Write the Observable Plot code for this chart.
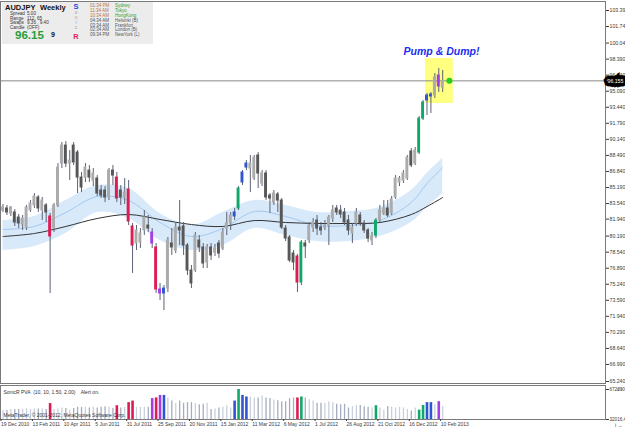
<!DOCTYPE html>
<html><head><meta charset="utf-8">
<script src="https://cdn.jsdelivr.net/npm/d3@7"></script>
<script src="https://cdn.jsdelivr.net/npm/@observablehq/plot@0.6"></script>
<style>
html,body{margin:0;padding:0;background:#fff;}
#wrap{position:relative;width:625px;height:429px;overflow:hidden;background:#fff;}
#wrap svg{position:absolute;left:0;}
</style></head><body><div id="wrap"></div>
<script>
// ---------------- data ----------------
const dateLabels = ["19 Dec 2010","13 Feb 2011","10 Apr 2011","5 Jun 2011","31 Jul 2011","25 Sep 2011","20 Nov 2011","15 Jan 2012","11 Mar 2012","6 May 2012","1 Jul 2012","26 Aug 2012","21 Oct 2012","16 Dec 2012","10 Feb 2013"];
const dateLabelBars = [0,8,16,24,32,40,48,56,64,72,80,88,96,104,112];

const opens = [82.82,83.03,82.51,82.62,82.10,81.38,81.07,82.82,83.34,84.16,
 82.82,83.34,82.21,80.97,83.34,87.65,89.50,87.65,89.50,88.78,
 86.21,86.21,86.93,85.91,86.11,84.88,84.88,84.16,86.93,86.21,
 84.88,84.16,84.98,81.18,79.43,79.53,80.77,81.28,80.56,79.02,
 74.70,74.29,74.80,79.43,78.71,81.07,81.18,79.22,76.65,76.65,
 79.74,79.02,77.48,79.02,78.50,79.43,78.92,80.97,81.49,82.21,
 83.03,85.70,87.24,87.14,86.11,88.48,85.60,86.63,84.36,83.64,
 84.47,83.85,80.97,80.05,78.40,78.09,75.42,79.43,79.74,81.07,
 81.79,81.07,81.07,81.28,82.00,83.03,82.82,82.62,81.79,80.46,
 81.49,82.31,81.49,80.77,79.74,80.25,81.79,82.51,83.03,82.51,
 84.16,85.70,85.91,86.11,88.89,87.65,88.78,92.28,94.14,94.55,
 94.65,96.71,95.47];
const highs = [83.44,83.34,83.23,82.92,82.41,82.31,83.34,83.85,84.57,84.36,
 84.16,83.54,82.51,83.54,87.65,89.81,89.92,88.99,89.81,88.99,
 86.73,87.65,87.45,87.14,86.42,85.39,85.29,87.14,87.45,86.73,
 85.39,86.11,85.91,81.49,81.28,80.97,82.82,82.31,80.97,79.43,
 75.32,75.11,80.05,80.97,81.49,83.85,81.59,79.43,77.17,80.56,
 80.25,79.43,79.33,79.43,79.33,79.74,80.97,82.62,82.62,83.03,
 85.29,86.93,87.96,88.48,88.48,88.78,86.93,86.93,84.57,84.88,
 84.67,84.06,81.28,80.25,78.71,78.30,79.74,79.74,81.59,82.00,
 82.31,81.59,81.79,82.31,83.34,83.34,83.34,83.03,82.31,81.49,
 83.03,82.62,81.79,80.97,80.56,82.00,83.34,83.85,83.85,84.26,
 86.42,86.32,86.93,88.48,89.20,89.30,92.49,94.14,94.86,94.96,
 96.91,97.43,97.22];
const lows = [82.62,82.31,82.21,81.18,80.97,80.77,80.77,82.62,83.03,82.62,
 81.79,81.59,74.29,80.56,83.13,87.14,87.24,85.91,87.45,84.57,
 84.67,85.70,85.70,85.29,84.26,84.06,83.64,83.85,85.39,83.64,
 83.34,83.44,81.28,76.35,78.71,78.92,80.25,80.56,78.92,74.29,
 73.57,72.54,74.39,78.20,78.40,79.22,78.20,76.14,74.80,76.45,
 78.50,76.86,76.86,77.68,78.09,77.89,78.71,80.25,80.77,81.79,
 82.82,85.39,86.93,84.67,85.91,85.08,85.29,83.85,82.51,83.34,
 82.62,80.87,79.63,77.48,76.65,74.39,75.11,77.89,79.43,80.56,
 80.25,80.25,80.77,79.22,81.59,82.31,82.00,81.28,80.25,79.43,
 81.18,81.18,80.46,79.53,79.22,79.94,81.59,82.31,82.10,82.31,
 83.95,85.29,85.60,85.91,87.24,87.45,88.58,92.07,92.59,92.80,
 94.34,94.96,94.96];
const closes = [83.13,82.62,83.13,81.59,81.49,82.00,83.13,83.54,84.26,83.03,
 83.85,82.62,80.15,83.34,87.24,89.50,87.65,87.96,87.76,86.21,
 85.19,87.24,86.21,86.63,84.57,84.36,84.16,86.93,86.42,84.06,
 84.16,84.67,81.69,79.22,80.77,80.46,82.10,80.97,79.43,74.70,
 74.29,74.80,79.74,79.02,81.07,80.77,79.22,76.65,75.32,80.25,
 79.02,77.37,79.02,78.20,78.92,78.40,80.56,81.49,82.31,82.62,
 85.08,86.73,87.65,87.65,88.27,86.63,86.63,84.16,84.06,84.57,
 83.85,81.07,79.94,77.68,77.48,75.42,79.53,79.12,81.28,81.59,
 80.97,80.77,81.28,82.10,82.82,82.62,82.41,81.59,80.77,81.07,
 82.62,81.49,80.77,79.94,80.15,81.79,82.82,83.03,82.31,83.95,
 86.11,86.11,86.63,88.27,87.45,88.99,92.28,93.93,94.65,94.75,
 96.50,95.57,96.155];
// PVA bar class: u = up, d = down, G = climax up, R = climax down, B = rising-volume up, P = rising-volume down
const pvaType = ("u d u d d u u u u d " + "u d R u u u d u d d " + "d u d u d d d u d R " +
 "d u R R u u u d P R " + "P B u d u d d d d u " + "d d u d u d u u u B " +
 "G B B u u d u d d u " + "d d d d d R G d u u " + "d d u u u d d d d u " +
 "u d d d u G u u d u " + "u u u u d u G G B B " + "u P u").trim().split(" ");
const volumes = [226000,226000,246000,246000,246000,246000,258000,246000,258000,258000,
 258000,246000,372000,246000,258000,278000,266000,226000,266000,292000,
 292000,292000,278000,292000,278000,292000,306000,292000,266000,326000,
 278000,292000,392000,426000,292000,292000,292000,292000,478000,492000,
 546000,546000,492000,426000,372000,426000,378000,392000,392000,372000,
 346000,358000,378000,246000,258000,278000,292000,326000,278000,426000,
 672390,546000,512000,512000,492000,492000,532000,492000,478000,446000,
 432000,412000,412000,478000,492000,492000,512000,492000,452000,426000,
 378000,378000,372000,412000,392000,358000,346000,358000,278000,306000,
 326000,332000,306000,292000,278000,326000,278000,232000,312000,292000,
 278000,292000,278000,246000,212000,278000,232000,332000,392000,392000,
 346000,412000,312000];

// SonicR dragon band (EMA34 high/low/close) and slow EMA89, sampled every few bars
const bandBars  = [0,8,16,24,32,40,48,56,64,72,80,88,96,104,108,112];
const bandUpper = [81.79,82.21,83.85,85.39,85.08,82.51,81.28,82.62,83.85,83.34,82.62,82.72,83.13,84.88,86.63,88.17];
const bandLower = [78.71,79.12,80.46,82.62,82.00,79.74,78.71,79.22,80.97,80.25,79.63,79.63,80.15,81.59,83.13,84.57];
const bandMid   = [80.87,81.18,82.62,84.26,83.85,81.59,80.15,80.97,82.72,82.21,81.28,81.28,81.79,83.64,85.60,87.24];
const emaSlow   = [80.15,80.46,81.18,82.00,82.41,81.90,81.38,81.18,81.79,81.59,81.49,81.49,81.59,82.41,83.23,84.16];

const priceTicks = [103.390,101.740,100.040,98.390,96.740,95.090,93.440,91.790,90.140,88.490,86.840,85.190,83.540,81.940,80.190,78.540,76.890,75.240,73.590,71.940,70.290,68.640,66.990,65.240];
const volumeTicks = [672390, 32016];
const volumeTickText = ["6723904", "32016.4"];
const lastPrice = 96.155;

const highlightBox = [{i1: 107.6, i2: 114.7, p1: 93.83, p2: 98.45}];
const annotation = [{i: 111.7, p: 99.17, label: "Pump & Dump!"}];
const priceMarker = [{i: 113.7, p: 96.155}];

const indicatorLabel = "SonicR PVA  (10, 10, 1.50, 2.00)    Alert on.";
const copyright = "MetaTrader, © 2001-2012, MetaQuotes Software Corp.";

// info panel texts
const infoTitle = ["AUDJPY", "Weekly"];
const infoRows = [["Spread", "5.00"], ["Range", "112. 65"], ["Swaps", "9.36 , 9.40"], ["Candle", "(OFF)"]];
const infoBig = "96.15", infoSmall = "9";
const sonicLetters = ["S","o","n","i","c","R"];
const clockTimes = ["01:34 PM","11:34 AM","10:34 AM","04:34 AM","03:34 AM","02:34 AM","09:34 PM"];
const clockCities = ["Sydney","Tokyo","HongKong","Helsinki  (B)","Frankfurt","London  (B)","NewYork  (L)"];

// ---------------- drawing ----------------
const FONT = "'Liberation Sans', Arial, sans-serif";
const bars = opens.map((o, k) => ({i: k, o, h: highs[k], l: lows[k], c: closes[k], t: pvaType[k], v: volumes[k]}));
const band = bandBars.map((b, k) => ({i: b, hi: bandUpper[k], lo: bandLower[k], mid: bandMid[k], slow: emaSlow[k]}));
const bodyColor = {u: "#ababab", d: "#575757", G: "#10a86a", R: "#dc1c52", B: "#2f55d4", P: "#a43ce8"};
const volColor  = {u: "#c9d0dc", d: "#a4acbe", G: "#10a86a", R: "#dc1c52", B: "#2f55d4", P: "#a43ce8"};
const xDomain = [-0.637, 153.47];

const wrap = document.getElementById("wrap");

const main = Plot.plot({
  width: 625, height: 384,
  marginLeft: 0, marginRight: 20, marginTop: 1, marginBottom: 1,
  x: {domain: xDomain, axis: null},
  y: {domain: [65.24, 103.39], range: [381, 10], axis: null},
  color: {type: "identity"},
  style: {background: "transparent", fontFamily: FONT, color: "#3a3a3a"},
  marks: [
    Plot.rect(highlightBox, {x1: "i1", x2: "i2", y1: "p1", y2: "p2", fill: "#ffff80"}),
    Plot.areaY(band, {x: "i", y1: "lo", y2: "hi", fill: "#d8e9fa", curve: "catmull-rom"}),
    Plot.lineY(band, {x: "i", y: "mid", stroke: "#a3c9ef", strokeWidth: 1, curve: "catmull-rom"}),
    Plot.lineY(band, {x: "i", y: "slow", stroke: "#333333", strokeWidth: 1, curve: "catmull-rom"}),
    Plot.ruleY([lastPrice], {stroke: "#8a8a8a", strokeWidth: 1}),
    Plot.ruleX(bars, {x: "i", y1: "l", y2: "h", stroke: "#5c6376", strokeWidth: 1}),
    Plot.rect(bars, {x1: d => d.i - 0.37, x2: d => d.i + 0.37,
      y1: d => Math.min(d.o, d.c), y2: d => Math.max(d.o, d.c),
      fill: d => bodyColor[d.t], insetTop: -0.5, insetBottom: -0.5}),
    Plot.dot(priceMarker, {x: "i", y: "p", r: 3, fill: "#1ed21e"}),
    Plot.text(annotation, {x: "i", y: "p", text: "label", fill: "#1b2df0", fontSize: 10.5, fontWeight: "bold", fontStyle: "italic"}),
    Plot.frame({stroke: "#7a7a7a"}),
    Plot.axisY({anchor: "right", ticks: priceTicks, tickFormat: d => d.toFixed(3), tickSize: 3, tickPadding: 1, fontSize: 5.2}),
    Plot.text([lastPrice], {y: d => d, frameAnchor: "right", textAnchor: "start", dx: 2, text: d => d.toFixed(3),
      fill: "white", stroke: "black", strokeWidth: 7, strokeLinejoin: "miter", fontSize: 5.2})
  ]
});
main.style.top = "0px";
wrap.appendChild(main);

const vol = Plot.plot({
  width: 625, height: 45,
  marginLeft: 0, marginRight: 20, marginTop: 1, marginBottom: 10,
  x: {domain: xDomain, axis: null},
  y: {domain: [32016, 672390], range: [35, 5], axis: null},
  color: {type: "identity"},
  style: {background: "transparent", fontFamily: FONT, color: "#3a3a3a"},
  marks: [
    Plot.ruleX(bars.filter(d => d.t === "u" || d.t === "d"), {x: "i", y1: 32016, y2: "v", stroke: d => volColor[d.t], strokeWidth: 1.3}),
    Plot.ruleX(bars.filter(d => d.t !== "u" && d.t !== "d"), {x: "i", y1: 32016, y2: "v", stroke: d => volColor[d.t], strokeWidth: 2.6}),
    Plot.frame({stroke: "#7a7a7a"}),
    Plot.axisX({ticks: dateLabelBars, tickFormat: d => dateLabels[dateLabelBars.indexOf(d)], tickSize: 2, tickPadding: 1,
      fontSize: 5, textAnchor: "start", dx: -2}),
    Plot.axisY({anchor: "right", ticks: volumeTicks, tickFormat: d => volumeTickText[volumeTicks.indexOf(d)], tickSize: 3, tickPadding: 1, fontSize: 4.6}),
    Plot.text([indicatorLabel], {frameAnchor: "top-left", dx: 3, dy: 5, fontSize: 5, textAnchor: "start", fill: "#333"}),
    Plot.text([copyright], {frameAnchor: "bottom-left", dx: 3, dy: -3, fontSize: 5, textAnchor: "start", fill: "#333"})
  ]
});
vol.style.top = "384px";
wrap.appendChild(vol);

// info panel (top-left)
const info = d3.create("svg").attr("width", 160).attr("height", 46)
  .style("position", "absolute").style("top", "0px").style("left", "0px")
  .style("font-family", FONT);
info.append("rect").attr("x", 2).attr("y", 2).attr("width", 151).attr("height", 42).attr("fill", "#ececec");
const T = (x, y, s, size, fill, weight, anchor) => info.append("text").attr("x", x).attr("y", y)
  .attr("font-size", size).attr("fill", fill).attr("font-weight", weight || "normal")
  .attr("text-anchor", anchor || "start").text(s);
T(5, 9.5, infoTitle[0], 7.5, "#111", "bold");
T(40, 9.5, infoTitle[1], 7.5, "#111", "bold");
infoRows.forEach((r, k) => { T(10, 15 + k * 4.7, r[0], 4.6, "#333"); T(27, 15 + k * 4.7, r[1], 4.6, "#333"); });
T(15, 39, infoBig, 11.5, "#2a9d3a", "bold");
T(51, 37, infoSmall, 7, "#111", "bold");
sonicLetters.forEach((s, k) => {
  if (k === 0) T(76, 9.3, s, 7.5, "#3344dd", "bold", "middle");
  else if (k === 5) T(76, 39, s, 7.5, "#e0205a", "bold", "middle");
  else T(76, 13.8 + (k - 1) * 5, s, 4.8, "#9a9ab8", "normal", "middle");
});
clockTimes.forEach((s, k) => {
  const y = 7.3 + k * 4.8;
  T(90, y, s, 4.5, k < 3 ? "#b8743e" : "#555");
  T(115, y, clockCities[k], 4.5, k < 3 ? "#2f9d2f" : "#555");
});
wrap.appendChild(info.node());
</script></body></html>
